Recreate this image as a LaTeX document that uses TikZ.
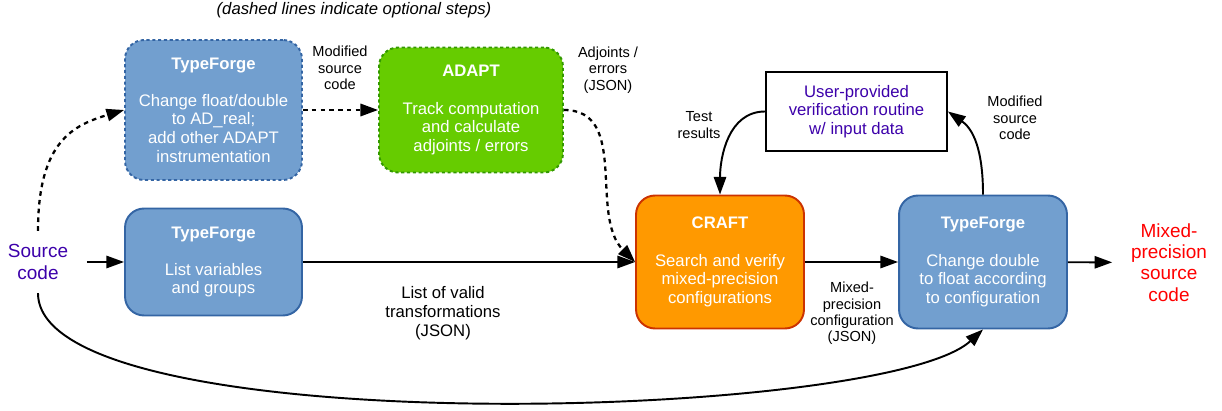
\documentclass[tikz,border=0pt]{standalone}
\usepackage{fontspec}
\setmainfont{Liberation Sans}
\usepackage{tikz}
\usetikzlibrary{arrows.meta}

\definecolor{forgeblue}{RGB}{114,159,207}
\definecolor{forgeedge}{RGB}{52,101,164}
\definecolor{adaptgreen}{RGB}{102,204,0}
\definecolor{adaptedge}{RGB}{51,153,0}
\definecolor{craftorange}{RGB}{255,153,0}
\definecolor{craftedge}{RGB}{204,51,0}
\definecolor{srcviolet}{RGB}{60,0,170}

\newcommand{\boxfont}{\fontsize{9.5}{10.6}\selectfont}
\newcommand{\notefont}{\fontsize{8.3}{9.3}\selectfont}
\newcommand{\edgefont}{\fontsize{9.5}{10.8}\selectfont}
\newcommand{\termfont}{\fontsize{10.8}{12.1}\selectfont}

\tikzset{
    tool/.style={rounded corners=0.38cm, line width=1.1pt, inner sep=0pt, align=center, text=white, font=\boxfont},
    forge/.style={tool, fill=forgeblue, draw=forgeedge},
    optional/.style={dash pattern=on 1.8pt off 1.5pt},
    flow/.style={-{Triangle[length=10pt,width=7pt]}, line width=1.1pt},
    optflow/.style={flow, line width=1.3pt, dash pattern=on 2.6pt off 2.4pt},
    note/.style={align=center, font=\notefont},
    term/.style={align=center, font=\termfont, inner xsep=0.37cm, inner ysep=0.27cm},
}

\begin{document}
\begin{tikzpicture}[x=0.02cm, y=0.02cm]
        \useasboundingbox (0,0) rectangle (1222,-411);

        \node[font=\boxfont\itshape] (title) at (354,-10) {(dashed lines indicate optional steps)};

        \node[forge, optional, minimum width=3.54cm, minimum height=2.8cm] (tf1) at (213.5,-110) {\textbf{TypeForge}\\[10.6pt]Change float/double\\to AD\_real;\\add other ADAPT\\instrumentation};
        \node[tool, optional, fill=adaptgreen, draw=adaptedge, minimum width=3.68cm, minimum height=2.5cm] (adapt) at (471,-110) {\textbf{ADAPT}\\[10.6pt]Track computation\\and calculate\\adjoints / errors};
        \node[forge, minimum width=3.54cm, minimum height=2.14cm] (tf2) at (213.5,-262) {\textbf{TypeForge}\\[10.6pt]List variables\\and groups};
        \node[tool, fill=craftorange, draw=craftedge, minimum width=3.36cm, minimum height=2.66cm] (craft) at (720,-262) {\textbf{CRAFT}\\[10.6pt]Search and verify\\mixed-precision\\configurations};
        \node[forge, minimum width=3.36cm, minimum height=2.66cm] (tf3) at (983,-262) {\textbf{TypeForge}\\[10.6pt]Change double\\to float according\\to configuration};
        \node[draw, line width=1.1pt, inner sep=0pt, align=center, text=srcviolet, font=\boxfont, minimum width=3.62cm, minimum height=1.58cm] (user) at (856.5,-111.5) {User-provided\\verification routine\\w/ input data};

        \node[term, text=srcviolet] (src) at (38,-262) {Source\\code};
        \node[term, text=red] (out) at (1169,-262.5) {Mixed-\\precision\\source\\code};

        \node[note] (modA) at (340,-68) {Modified\\source\\code};
        \node[note] (adj) at (608,-70) {Adjoints /\\errors\\(JSON)};
        \node[note] (test) at (699,-125) {Test\\results};
        \node[note] (modB) at (1015,-118) {Modified\\source\\code};
        \node[align=center, font=\edgefont] (valid) at (443,-313) {List of valid\\transformations\\(JSON)};
        \node[note] (mixconf) at (852,-313.5) {Mixed-\\precision\\configuration\\(JSON)};

        \draw[flow] (src) -- (tf2);
        \draw[flow] (tf2) -- (craft);
        \draw[flow] (craft) -- (tf3);
        \draw[flow] (tf3) -- (out);
        \draw[optflow] (tf1) -- (adapt);
        \draw[optflow] (src.north) .. controls +(0,90) and +(-50,-15) .. (tf1.west);
        \draw[optflow] (adapt.east) to[out=0, in=135] (craft.west);
        \draw[flow] (user.west) to[out=180, in=90] (craft.north);
        \draw[flow] (tf3.north) to[out=90, in=-35] (user.east);
        \draw[flow] (src.south) .. controls +(0,-150) and +(-100,-92) .. (tf3.south);
    \end{tikzpicture}
\end{document}
